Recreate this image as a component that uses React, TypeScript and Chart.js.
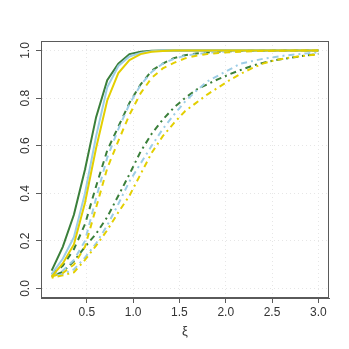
import React, { useEffect, useRef } from "react";
import { Chart, registerables } from "chart.js";

Chart.register(...registerables);

// x positions of the curves
const xValues = [
  0.12, 0.24, 0.36, 0.48, 0.6, 0.72, 0.84, 0.96, 1.08, 1.2, 1.32, 1.44, 1.56,
  1.68, 1.8, 1.92, 2.04, 2.16, 2.28, 2.4, 2.52, 2.64, 2.76, 2.88, 3.0,
];

const xTicks = [0.5, 1.0, 1.5, 2.0, 2.5, 3.0];
const yTicks = [0.0, 0.2, 0.4, 0.6, 0.8, 1.0];
const xTitle = "ξ";

// solid curves
const solidGreen = [
  0.075, 0.175, 0.31, 0.5, 0.72, 0.875, 0.945, 0.985, 0.995, 0.999, 1, 1, 1,
  1, 1, 1, 1, 1, 1, 1, 1, 1, 1, 1, 1,
];
const solidBlue = [
  0.06, 0.125, 0.215, 0.4, 0.64, 0.845, 0.935, 0.975, 0.99, 0.997, 1, 1, 1,
  1, 1, 1, 1, 1, 1, 1, 1, 1, 1, 1, 1,
];
const solidYellow = [
  0.05, 0.105, 0.185, 0.36, 0.59, 0.79, 0.905, 0.96, 0.985, 0.995, 0.998, 1,
  1, 1, 1, 1, 1, 1, 1, 1, 1, 1, 1, 1, 1,
];

// dashed curves
const dashedGreen = [
  0.06, 0.095, 0.165, 0.27, 0.43, 0.58, 0.68, 0.78, 0.857, 0.915, 0.945,
  0.968, 0.98, 0.987, 0.992, 0.995, 0.997, 0.998, 0.999, 0.999, 1, 1, 1, 1, 1,
];
const dashedBlue = [
  0.055, 0.075, 0.12, 0.2, 0.38, 0.55, 0.67, 0.775, 0.855, 0.91, 0.945,
  0.965, 0.978, 0.985, 0.99, 0.994, 0.996, 0.998, 0.999, 0.999, 1, 1, 1, 1, 1,
];
const dashedYellow = [
  0.05, 0.065, 0.1, 0.175, 0.34, 0.505, 0.62, 0.73, 0.82, 0.885, 0.925,
  0.948, 0.967, 0.978, 0.985, 0.99, 0.993, 0.995, 0.997, 0.998, 0.999, 0.999,
  1, 1, 1,
];

// dot-dash curves
const dotdashGreen = [
  0.05, 0.07, 0.115, 0.175, 0.23, 0.3, 0.39, 0.48, 0.575, 0.65, 0.71, 0.76,
  0.8, 0.835, 0.858, 0.88, 0.9, 0.918, 0.935, 0.948, 0.958, 0.966, 0.973,
  0.98, 0.986,
];
const dotdashBlue = [
  0.05, 0.06, 0.08, 0.13, 0.19, 0.265, 0.355, 0.45, 0.525, 0.6, 0.67, 0.73,
  0.785, 0.83, 0.87, 0.895, 0.92, 0.945, 0.955, 0.965, 0.972, 0.979, 0.984,
  0.988, 0.992,
];
const dotdashYellow = [
  0.045, 0.055, 0.068, 0.12, 0.18, 0.245, 0.32, 0.39, 0.48, 0.57, 0.64,
  0.695, 0.745, 0.78, 0.815, 0.845, 0.875, 0.902, 0.925, 0.945, 0.958, 0.967,
  0.974, 0.979, 0.983,
];

const GREEN = "#3a7f3a";
const BLUE = "#9dcde6";
const YELLOW = "#e3cf00";
const SOLID: number[] = [];
const DASHED = [6, 5];
const DOTDASH = [2, 4, 6, 4];

const seriesList: { values: number[]; color: string; dash: number[] }[] = [
  { values: solidGreen, color: GREEN, dash: SOLID },
  { values: dashedGreen, color: GREEN, dash: DASHED },
  { values: dotdashGreen, color: GREEN, dash: DOTDASH },
  { values: solidBlue, color: BLUE, dash: SOLID },
  { values: dashedBlue, color: BLUE, dash: DASHED },
  { values: dotdashBlue, color: BLUE, dash: DOTDASH },
  { values: solidYellow, color: YELLOW, dash: SOLID },
  { values: dashedYellow, color: YELLOW, dash: DASHED },
  { values: dotdashYellow, color: YELLOW, dash: DOTDASH },
];

const FONT = "'Liberation Sans', Arial, Helvetica, sans-serif";
const TEXT = "#333333";
const AXIS = "#5a5a5a";
const GRID = "#e6e6e6";

const framePlugin = {
  id: "frame",
  afterDraw(chart: any) {
    const { ctx, chartArea: a, scales } = chart;
    ctx.save();
    ctx.strokeStyle = AXIS;
    ctx.lineWidth = 1;
    ctx.setLineDash([]);
    ctx.strokeRect(
      Math.round(a.left) + 0.5,
      Math.round(a.top) + 0.5,
      Math.round(a.right - a.left) - 1,
      Math.round(a.bottom - a.top) - 1
    );
    // rotated y tick labels (R style)
    const ys = scales.y;
    ctx.fillStyle = TEXT;
    ctx.font = `12px ${FONT}`;
    ctx.textAlign = "center";
    ctx.textBaseline = "middle";
    for (const v of yTicks) {
      const py = ys.getPixelForValue(v);
      ctx.save();
      ctx.translate(a.left - 15.5, py);
      ctx.rotate(-Math.PI / 2);
      ctx.fillText(v.toFixed(1), 0, 0);
      ctx.restore();
    }
    ctx.restore();
  },
};

export default function App() {
  const ref = useRef<HTMLCanvasElement | null>(null);

  useEffect(() => {
    if (!ref.current) return;
    const datasets = seriesList.map((s, i) => ({
      label: `s${i}`,
      data: xValues.map((x, j) => ({ x, y: s.values[j] })),
      borderColor: s.color,
      backgroundColor: s.color,
      borderWidth: 2,
      borderDash: s.dash,
      borderCapStyle: "butt" as const,
      pointRadius: 0,
      tension: 0,
      fill: false,
      order: 100 - i,
    }));

    const chart = new Chart(ref.current, {
      type: "line",
      data: { datasets },
      plugins: [framePlugin],
      options: {
        animation: false,
        responsive: false,
        devicePixelRatio: 1,
        layout: { padding: { top: 41, right: 20, left: 0, bottom: 0 } },
        plugins: {
          legend: { display: false },
          tooltip: { enabled: false },
        },
        scales: {
          x: {
            type: "linear",
            min: 0.0048,
            max: 3.1152,
            afterBuildTicks: (scale: any) => {
              scale.ticks = xTicks.map((v) => ({ value: v }));
            },
            afterFit: (scale: any) => {
              scale.height = 51;
            },
            ticks: {
              color: TEXT,
              font: { family: FONT, size: 12 },
              padding: 2,
              maxRotation: 0,
              minRotation: 0,
              callback: (v: any) => Number(v).toFixed(1),
            },
            grid: {
              color: GRID,
              lineWidth: 1,
              drawTicks: true,
              tickLength: 5,
              tickColor: AXIS,
              tickWidth: 1,
            },
            border: { display: true, color: AXIS, width: 1, dash: [1, 3] },
            title: {
              display: true,
              text: xTitle,
              color: TEXT,
              font: { family: FONT, size: 13 },
              padding: { top: 0, bottom: 9.5 },
            },
          },
          y: {
            type: "linear",
            min: -0.04,
            max: 1.04,
            afterBuildTicks: (scale: any) => {
              scale.ticks = yTicks.map((v) => ({ value: v }));
            },
            afterFit: (scale: any) => {
              scale.width = 41;
            },
            ticks: { display: false },
            grid: {
              color: GRID,
              lineWidth: 1,
              drawTicks: true,
              tickLength: 5,
              tickColor: AXIS,
              tickWidth: 1,
            },
            border: { display: true, color: AXIS, width: 1, dash: [1, 3] },
          },
        },
      } as any,
    });
    return () => chart.destroy();
  }, []);

  return (
    <div
      style={{
        position: "absolute",
        left: 0,
        top: 0,
        width: 349,
        height: 349,
        background: "#ffffff",
      }}
    >
      <canvas ref={ref} width={349} height={349} />
    </div>
  );
}
